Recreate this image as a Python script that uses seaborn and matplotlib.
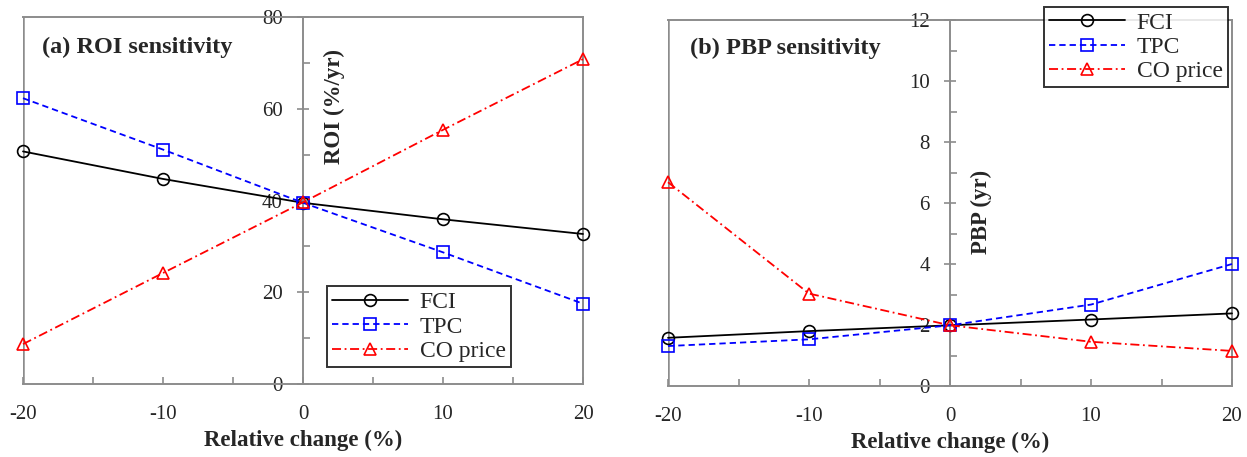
import numpy as np
import pandas as pd
import matplotlib
matplotlib.use("Agg")
import matplotlib.pyplot as plt
from matplotlib.ticker import MultipleLocator
import seaborn as sns

# ─────────────────────────────────────────────
# DATA
# ─────────────────────────────────────────────
rel_change = [-20, -10, 0, 10, 20]

roi_fci = [50.7, 44.7, 39.5, 35.9, 32.7]
roi_tpc = [62.3, 51.1, 39.5, 28.7, 17.5]
roi_co = [8.7, 24.2, 39.6, 55.4, 70.8]

pbp_fci = [1.58, 1.80, 1.99, 2.18, 2.38]
pbp_tpc = [1.31, 1.53, 1.99, 2.67, 4.00]
pbp_co = [6.68, 3.03, 1.99, 1.45, 1.15]

series_names = ["FCI", "TPC", "CO price"]

# ─────────────────────────────────────────────
# STYLE
# ─────────────────────────────────────────────
sns.set_style("white")
plt.rcParams["font.family"] = ["Liberation Serif", "DejaVu Serif"]
plt.rcParams["axes.unicode_minus"] = False

GREY = "#8c8c8c"
styles = {
    "FCI":      dict(color="black", marker="o", linestyle="-", ms=8.5),
    "TPC":      dict(color="#0000ff", marker="s", linestyle=(0, (3.5, 2.2)), ms=8.5),
    "CO price": dict(color="#ff0000", marker="^", linestyle=(0, (5, 2, 1, 2)), ms=9),
}

fig = plt.figure(figsize=(12.47, 4.57), dpi=100)
ax1 = fig.add_axes([23 / 1247, 1 - 384 / 457, 560 / 1247, 367 / 457])
ax2 = fig.add_axes([668 / 1247, 1 - 386 / 457, 564 / 1247, 366 / 457])


def draw_panel(ax, values, ymax, ymaj, title, title_pos, ylabel, ylab_pos,
               leg_loc, leg_anchor):
    for name, vals in zip(series_names, values):
        st = styles[name]
        sns.lineplot(x=rel_change, y=vals, ax=ax, label=name,
                     color=st["color"], marker=st["marker"],
                     linestyle=st["linestyle"], linewidth=1.3,
                     markersize=st["ms"], markerfacecolor="none",
                     markeredgecolor=st["color"], markeredgewidth=1.2,
                     clip_on=False, zorder=3)

    ax.set_xlim(-20, 20)
    ax.set_ylim(0, ymax)
    ax.xaxis.set_major_locator(MultipleLocator(10))
    ax.xaxis.set_minor_locator(MultipleLocator(5))
    ax.yaxis.set_major_locator(MultipleLocator(ymaj))
    ax.yaxis.set_minor_locator(MultipleLocator(ymaj / 2))

    # frame + y axis through x = 0
    for side in ["top", "right", "bottom", "left"]:
        ax.spines[side].set_color(GREY)
        ax.spines[side].set_linewidth(1.4)
    ax.spines["left"].set_position(("data", 0))
    ax.axvline(-20, color=GREY, linewidth=1.8, zorder=1)

    ax.tick_params(axis="y", which="major", direction="inout", length=9,
                   width=1.2, color=GREY, labelsize=15, pad=10)
    ax.tick_params(axis="y", which="minor", direction="in", length=5,
                   width=1.2, color=GREY)
    ax.tick_params(axis="x", which="major", direction="in", length=5,
                   width=1.2, color=GREY, labelsize=15, pad=15)
    ax.tick_params(axis="x", which="minor", direction="in", length=5,
                   width=1.2, color=GREY)
    ax.tick_params(left=True, bottom=True, which="both")

    ax.set_xlabel("Relative change (%)", fontsize=16.5, fontweight="bold",
                  labelpad=4)
    ax.set_ylabel("")
    ax.text(title_pos[0], title_pos[1], title, transform=ax.transAxes,
            fontsize=17.5, fontweight="bold", ha="left", va="center")
    ax.text(ylab_pos[0], ylab_pos[1], ylabel, transform=ax.transAxes,
            fontsize=16.5, fontweight="bold", rotation=90,
            ha="center", va="center")

    leg = ax.legend(loc=leg_loc, bbox_to_anchor=leg_anchor, fontsize=17,
                    frameon=True, fancybox=False, handlelength=3.2,
                    handletextpad=0.5, borderpad=0.22, labelspacing=0.12,
                    borderaxespad=0)
    leg.get_frame().set_edgecolor("black")
    leg.get_frame().set_linewidth(1.4)


draw_panel(ax1, [roi_fci, roi_tpc, roi_co], 80, 20,
           "(a) ROI sensitivity", (0.034, 0.918),
           "ROI (%/yr)", (0.556, 0.757),
           "lower right", (0.871, 0.046))
draw_panel(ax2, [pbp_fci, pbp_tpc, pbp_co], 12, 2,
           "(b) PBP sensitivity", (0.039, 0.923),
           "PBP (yr)", (0.556, 0.475),
           "upper right", (0.993, 1.036))

fig.savefig("out.png", dpi=100)
